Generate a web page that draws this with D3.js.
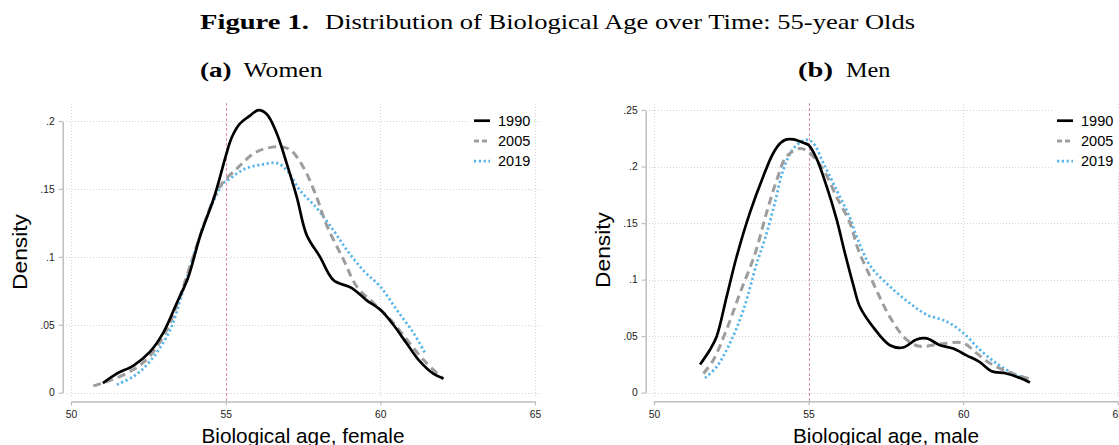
<!DOCTYPE html>
<html>
<head>
<meta charset="utf-8">
<script src="https://cdn.jsdelivr.net/npm/d3@7"></script>
<style>
  html, body { margin: 0; padding: 0; background: #fff; }
  svg { display: block; }
</style>
</head>
<body>
<svg id="fig" width="1119" height="445"></svg>
<script>
// ---- data -----------------------------------------------------------
const years = ["1990", "2005", "2019"];
const xTicks = [50, 55, 60, 65];
const yTicksWomen = [0, 0.05, 0.1, 0.15, 0.2];
const yTicksMen = [0, 0.05, 0.1, 0.15, 0.2, 0.25];
const referenceAge = 55;

// kernel density estimates: [biological age, density]
const women1990 = [
  [51.03, 0.007], [51.48, 0.014], [52.02, 0.020], [52.55, 0.030], [52.98, 0.044],
  [53.42, 0.066], [53.79, 0.085], [54.17, 0.115], [54.6, 0.142], [54.82, 0.159],
  [55.0, 0.174], [55.2, 0.188], [55.46, 0.198], [55.79, 0.204], [56.06, 0.208],
  [56.33, 0.205], [56.65, 0.191], [56.97, 0.169], [57.3, 0.144], [57.62, 0.116],
  [58.05, 0.100], [58.48, 0.083], [59.08, 0.077], [59.56, 0.068], [60.0, 0.061],
  [60.42, 0.050], [60.86, 0.036], [61.28, 0.023], [61.71, 0.014], [62.04, 0.0105]
];
const women2005 = [
  [50.72, 0.005], [51.26, 0.009], [52.02, 0.017], [52.55, 0.027], [53.09, 0.046],
  [53.52, 0.071], [53.95, 0.100], [54.39, 0.130], [54.82, 0.152], [55.41, 0.166],
  [55.9, 0.176], [56.33, 0.180], [56.76, 0.181], [57.08, 0.179], [57.51, 0.166],
  [57.94, 0.144], [58.27, 0.123], [58.81, 0.098], [59.24, 0.078], [59.78, 0.066],
  [60.32, 0.054], [60.86, 0.039], [61.4, 0.024], [62.04, 0.010]
];
const women2019 = [
  [51.48, 0.006], [52.02, 0.012], [52.55, 0.023], [53.2, 0.046], [53.63, 0.076],
  [54.06, 0.108], [54.49, 0.135], [54.92, 0.154], [55.1, 0.157], [55.64, 0.165],
  [56.18, 0.168], [56.65, 0.169], [56.97, 0.164], [57.4, 0.149], [57.94, 0.136],
  [58.5, 0.119], [58.92, 0.105], [59.45, 0.090], [60.0, 0.078], [60.53, 0.061],
  [61.07, 0.044], [61.45, 0.029]
];
const men1990 = [
  [51.49, 0.025], [51.81, 0.038], [52.03, 0.050], [52.35, 0.085], [52.67, 0.120],
  [53.1, 0.159], [53.53, 0.191], [53.86, 0.212], [54.1, 0.221], [54.29, 0.224],
  [54.51, 0.224], [54.83, 0.221], [55.0, 0.219], [55.26, 0.207], [55.59, 0.182],
  [55.91, 0.153], [56.18, 0.123], [56.45, 0.095], [56.66, 0.076], [57.09, 0.058],
  [57.63, 0.042], [58.06, 0.040], [58.49, 0.047], [58.82, 0.048], [59.25, 0.042],
  [59.68, 0.039], [60.11, 0.033], [60.54, 0.027], [60.92, 0.019], [61.4, 0.017],
  [61.84, 0.013], [62.16, 0.009]
];
const men2005 = [
  [51.6, 0.017], [51.92, 0.029], [52.35, 0.056], [52.78, 0.088], [53.27, 0.123],
  [53.64, 0.159], [53.97, 0.188], [54.29, 0.209], [54.72, 0.216], [54.99, 0.213],
  [55.48, 0.197], [55.91, 0.173], [56.34, 0.150], [56.6, 0.127], [57.09, 0.097],
  [57.63, 0.067], [58.17, 0.047], [58.6, 0.041], [59.25, 0.043], [60.0, 0.044],
  [60.43, 0.035], [60.87, 0.026], [61.4, 0.019], [62.16, 0.012]
];
const men2019 = [
  [51.65, 0.013], [52.03, 0.023], [52.46, 0.044], [52.89, 0.073], [53.32, 0.114],
  [53.6, 0.137], [53.91, 0.168], [54.18, 0.197], [54.51, 0.216], [54.88, 0.2235],
  [55.04, 0.223], [55.2, 0.219], [55.48, 0.203], [55.91, 0.179], [56.3, 0.157],
  [56.6, 0.135], [57.0, 0.112], [57.63, 0.094], [58.28, 0.079], [58.82, 0.069],
  [59.46, 0.063], [60.0, 0.053], [60.54, 0.038], [61.08, 0.026], [61.62, 0.017],
  [62.1, 0.012]
];

// ---- styles ---------------------------------------------------------
const seriesStyle = {
  "1990": { color: "#000000", width: 2.7, dash: null },
  "2005": { color: "#9d9d9d", width: 3.0, dash: "8,5" },
  "2019": { color: "#55b4ea", width: 2.7, dash: "2.2,2.6" }
};
const SANS = "'Liberation Sans', Arial, Helvetica, sans-serif";
const SERIF = "'Liberation Serif', 'Times New Roman', serif";

const svg = d3.select("#fig");

// ---- headings -------------------------------------------------------
function heading(x, y, str, bold, width, size) {
  svg.append("text")
    .attr("x", x).attr("y", y)
    .attr("font-family", SERIF)
    .attr("font-size", size)
    .attr("font-weight", bold ? "bold" : "normal")
    .attr("textLength", width)
    .attr("lengthAdjust", "spacingAndGlyphs")
    .attr("fill", "#000")
    .text(str);
}
heading(200, 29, "Figure 1.", true, 109, 21);
heading(325, 29, "Distribution of Biological Age over Time: 55-year Olds", false, 590, 21);
heading(200, 77, "(a)", true, 31.5, 21);
heading(243.5, 77, "Women", false, 79, 21);
heading(798, 77, "(b)", true, 35, 21);
heading(846, 77, "Men", false, 44.5, 21);

// ---- panels ---------------------------------------------------------
const panels = [
  {
    series: { "1990": women1990, "2005": women2005, "2019": women2019 },
    yTicks: yTicksWomen, yMax: 0.2,
    xRange: [71, 535], yRange: [392.7, 121],
    yAxisX: 62.7, xAxisY: 401.6,
    gridX: [66, 542], gridY: [104, 398],
    title: "Biological age, female", titleX: 303, titleW: 203,
    densityX: 26.7, densityY: 252,
    legend: { box: [470, 110, 64, 62], lineX: [474, 490], textX: 498 }
  },
  {
    series: { "1990": men1990, "2005": men2005, "2019": men2019 },
    yTicks: yTicksMen, yMax: 0.25,
    xRange: [654, 1117.7], yRange: [392.7, 110],
    yAxisX: 645.7, xAxisY: 401.2,
    gridX: [649, 1119], gridY: [104, 398],
    title: "Biological age, male", titleX: 886, titleW: 186,
    densityX: 609.7, densityY: 250,
    legend: { box: [1053, 110, 66, 62], lineX: [1057, 1073], textX: 1081 }
  }
];

panels.forEach(p => {
  const x = d3.scaleLinear().domain([50, 65]).range(p.xRange);
  const y = d3.scaleLinear().domain([0, p.yMax]).range(p.yRange);
  const g = svg.append("g");

  // dotted grid
  const grid = g.append("g")
    .attr("stroke", "#d4d4d4").attr("stroke-width", 1)
    .attr("stroke-dasharray", "1,2");
  grid.selectAll("line.h").data(p.yTicks).join("line")
    .attr("class", "h")
    .attr("x1", p.gridX[0]).attr("x2", p.gridX[1])
    .attr("y1", d => Math.round(y(d)) + 0.5).attr("y2", d => Math.round(y(d)) + 0.5);
  grid.selectAll("line.v").data(xTicks.filter(t => t !== referenceAge)).join("line")
    .attr("class", "v")
    .attr("x1", d => Math.round(x(d)) + 0.5).attr("x2", d => Math.round(x(d)) + 0.5)
    .attr("y1", p.gridY[0]).attr("y2", p.gridY[1]);

  // reference line at age 55
  g.append("line")
    .attr("x1", Math.round(x(referenceAge)) + 0.5).attr("x2", Math.round(x(referenceAge)) + 0.5)
    .attr("y1", 103).attr("y2", p.xAxisY)
    .attr("stroke", "#e38cb0").attr("stroke-width", 1)
    .attr("stroke-dasharray", "3,2");

  // axes
  const fmt = d => d === 0 ? "0" : String(d).replace(/^0/, "");
  const yAxis = g.append("g")
    .attr("transform", `translate(${p.yAxisX},0)`)
    .call(d3.axisLeft(y).tickValues(p.yTicks).tickFormat(fmt)
      .tickSize(4).tickSizeOuter(0).tickPadding(4));
  const xAxis = g.append("g")
    .attr("transform", `translate(0,${p.xAxisY})`)
    .call(d3.axisBottom(x).tickValues(xTicks).tickFormat(d3.format("d"))
      .tickSize(4).tickSizeOuter(0).tickPadding(5.3));
  [yAxis, xAxis].forEach(a => {
    a.select(".domain").attr("stroke", "#bdbdbd").attr("stroke-width", 1.5);
    a.selectAll(".tick line").attr("stroke", "#bdbdbd").attr("stroke-width", 1.2);
    a.selectAll(".tick text")
      .attr("fill", "#1a1a1a")
      .attr("font-family", SANS)
      .attr("font-size", 10.3);
  });

  // axis titles
  g.append("text")
    .attr("x", p.titleX).attr("y", 443)
    .attr("text-anchor", "middle")
    .attr("font-family", SANS).attr("font-size", 20.5)
    .attr("textLength", p.titleW).attr("lengthAdjust", "spacingAndGlyphs")
    .attr("fill", "#000")
    .text(p.title);
  g.append("text")
    .attr("transform", `translate(${p.densityX},${p.densityY}) rotate(-90)`)
    .attr("text-anchor", "middle")
    .attr("font-family", SANS).attr("font-size", 20.5)
    .attr("textLength", 76).attr("lengthAdjust", "spacingAndGlyphs")
    .attr("fill", "#000")
    .text("Density");

  // density curves
  const line = d3.line()
    .x(d => x(d[0])).y(d => y(d[1]))
    .curve(d3.curveCatmullRom.alpha(0.5));
  years.slice().reverse().forEach(yr => {
    const s = seriesStyle[yr];
    g.append("path")
      .datum(p.series[yr])
      .attr("fill", "none")
      .attr("stroke", s.color)
      .attr("stroke-width", s.width)
      .attr("stroke-dasharray", s.dash)
      .attr("stroke-linejoin", "round")
      .attr("d", line);
  });

  // legend
  const L = p.legend;
  const lg = g.append("g");
  lg.append("rect")
    .attr("x", L.box[0]).attr("y", L.box[1])
    .attr("width", L.box[2]).attr("height", L.box[3])
    .attr("fill", "#fff");
  years.forEach((yr, i) => {
    const s = seriesStyle[yr];
    const cy = 120.7 + i * 20.2;
    lg.append("line")
      .attr("x1", L.lineX[0]).attr("x2", L.lineX[1])
      .attr("y1", cy).attr("y2", cy)
      .attr("stroke", s.color).attr("stroke-width", s.width)
      .attr("stroke-dasharray", yr === "2005" ? "5,3" : s.dash);
    lg.append("text")
      .attr("x", L.textX).attr("y", cy + 5.2)
      .attr("font-family", SANS).attr("font-size", 14.5)
      .attr("fill", "#000")
      .text(yr);
  });
});
</script>
</body>
</html>
